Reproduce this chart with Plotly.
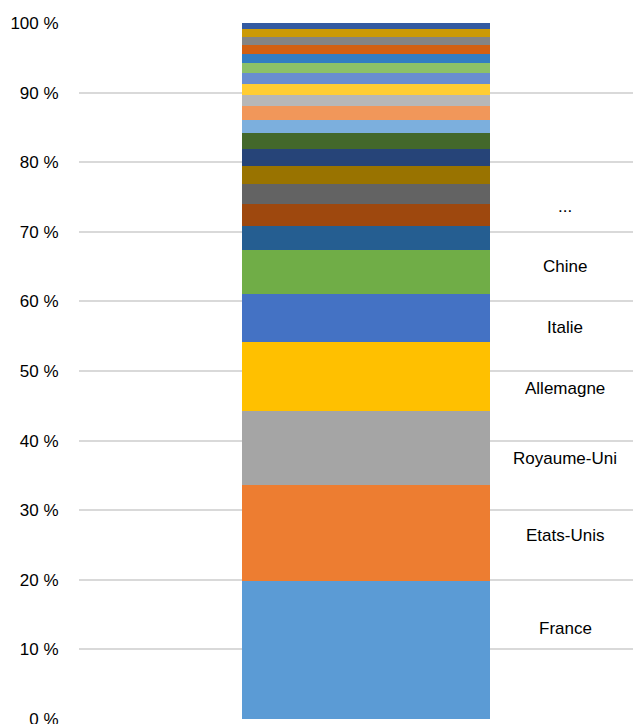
import plotly.graph_objects as go

# Segment shares (%) from bottom to top
segment_names = ["France", "Etats-Unis", "Royaume-Uni", "Allemagne", "Italie", "Chine",
                 "Pays 7", "Pays 8", "Pays 9", "Pays 10", "Pays 11", "Pays 12", "Pays 13",
                 "Pays 14", "Pays 15", "Pays 16", "Pays 17", "Pays 18", "Pays 19",
                 "Pays 20", "Pays 21", "Pays 22", "Pays 23"]
segment_values = [19.8, 13.8, 10.65, 9.9, 6.9, 6.4,
                  3.4, 3.15, 2.87, 2.55, 2.44, 2.3, 1.85,
                  2.05, 1.6, 1.57, 1.58, 1.45, 1.3,
                  1.3, 1.1, 1.2, 0.8]
segment_colors = ["#5b9bd5", "#ed7d31", "#a5a5a5", "#ffc000", "#4472c4", "#70ad47",
                  "#255e91", "#9e480e", "#636363", "#997300", "#264478", "#43682b", "#7cafdd",
                  "#f1975a", "#b7b7b7", "#ffcd33", "#698ed0", "#8cc168", "#327dc2",
                  "#d26012", "#848484", "#cc9a06", "#335aa1"]

# Text labels at right of the bar
label_texts = ["France", "Etats-Unis", "Royaume-Uni", "Allemagne", "Italie", "Chine", "..."]
label_y = [13.0, 26.3, 37.5, 47.5, 56.3, 65.0, 73.6]

fig = go.Figure()
for name, val, col in zip(segment_names, segment_values, segment_colors):
    fig.add_trace(go.Bar(x=[0], y=[val], name=name, marker=dict(color=col, line=dict(width=0)),
                         width=1.246, hoverinfo="name+y"))

for t, y in zip(label_texts, label_y):
    fig.add_annotation(x=1, y=y, text=t, showarrow=False, xanchor="center", yanchor="middle",
                       font=dict(family="Liberation Sans, Arial", size=17, color="#000000"))

fig.update_layout(
    barmode="stack",
    width=641, height=724,
    margin=dict(l=71, r=0, t=15, b=13),
    plot_bgcolor="white", paper_bgcolor="white",
    showlegend=False,
    bargap=0,
    xaxis=dict(range=[-1.442, 1.422], showticklabels=False, showgrid=False, zeroline=False,
               showline=False, fixedrange=True),
    yaxis=dict(range=[0, 100], tickmode="linear", tick0=0, dtick=10, ticksuffix=" %",
               showgrid=True, gridcolor="#d9d9d9", gridwidth=1.5, zeroline=False,
               showline=False, ticks="outside", ticklen=16, tickcolor="rgba(0,0,0,0)",
               tickfont=dict(family="Liberation Sans, Arial", size=17, color="#000000")),
)

fig.write_html("out.html")
